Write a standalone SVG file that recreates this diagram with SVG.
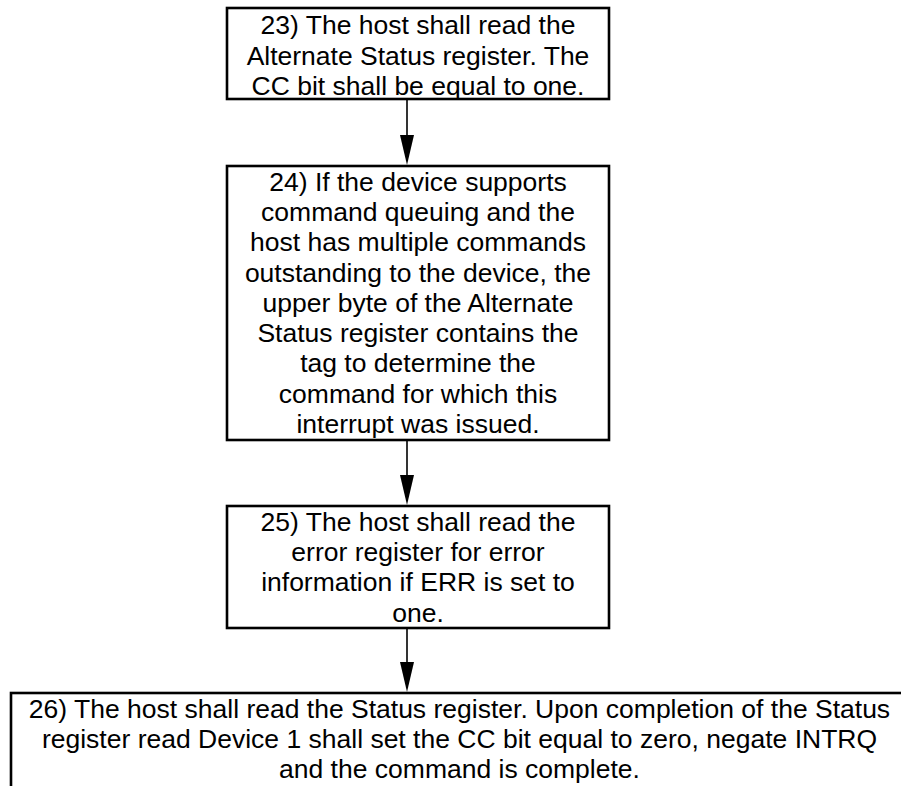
<svg xmlns="http://www.w3.org/2000/svg" width="901" height="786" viewBox="0 0 901 786">
  <style>
    .box { fill: #ffffff; stroke: #000000; stroke-width: 2.6; }
    .lbl { font-family: "Liberation Sans", Arial, sans-serif; font-size: 26.5px; fill: #000000; text-anchor: middle; }
    .edge { stroke: #000000; stroke-width: 1.6; fill: none; }
    .tip { fill: #000000; stroke: none; }
  </style>
  <defs>
    <!-- narrow filled arrowhead, tip at the origin, pointing down -->
    <path id="tip" class="tip" d="M-7,-30 L7,-30 L0,0 Z"/>
  </defs>
  <rect x="0" y="0" width="901" height="786" fill="#ffffff"/>

  <g id="connectors">
    <line class="edge" x1="407" y1="100" x2="407" y2="140"/>
    <use href="#tip" x="407" y="165"/>
    <line class="edge" x1="407" y1="441" x2="407" y2="480"/>
    <use href="#tip" x="407" y="505"/>
    <line class="edge" x1="407" y1="629" x2="407" y2="667"/>
    <use href="#tip" x="407" y="692"/>
  </g>

  <g id="step23">
    <rect class="box" x="227" y="8" width="382" height="91"/>
    <text class="lbl" x="418" y="34">23) The host shall read the</text>
    <text class="lbl" x="418" y="64.5">Alternate Status register. The</text>
    <text class="lbl" x="418" y="95">CC bit shall be equal to one.</text>
  </g>

  <g id="step24">
    <rect class="box" x="227" y="166" width="382" height="274"/>
    <text class="lbl" x="418" y="190.7">24) If the device supports</text>
    <text class="lbl" x="418" y="221">command queuing and the</text>
    <text class="lbl" x="418" y="251.2">host has multiple commands</text>
    <text class="lbl" x="418" y="281.5">outstanding to the device, the</text>
    <text class="lbl" x="418" y="311.7">upper byte of the Alternate</text>
    <text class="lbl" x="418" y="342">Status register contains the</text>
    <text class="lbl" x="418" y="372.2">tag to determine the</text>
    <text class="lbl" x="418" y="402.5">command for which this</text>
    <text class="lbl" x="418" y="432.7">interrupt was issued.</text>
  </g>

  <g id="step25">
    <rect class="box" x="227" y="506" width="382" height="122"/>
    <text class="lbl" x="418" y="530.7">25) The host shall read the</text>
    <text class="lbl" x="418" y="561">error register for error</text>
    <text class="lbl" x="418" y="591.3">information if ERR is set to</text>
    <text class="lbl" x="418" y="621.7">one.</text>
  </g>

  <g id="step26">
    <rect class="box" x="11" y="693" width="898" height="120"/>
    <text class="lbl" x="459.5" y="717.7">26) The host shall read the Status register. Upon completion of the Status</text>
    <text class="lbl" x="459.5" y="748">register read Device 1 shall set the CC bit equal to zero, negate INTRQ</text>
    <text class="lbl" x="459.5" y="778.3">and the command is complete.</text>
  </g>
</svg>
